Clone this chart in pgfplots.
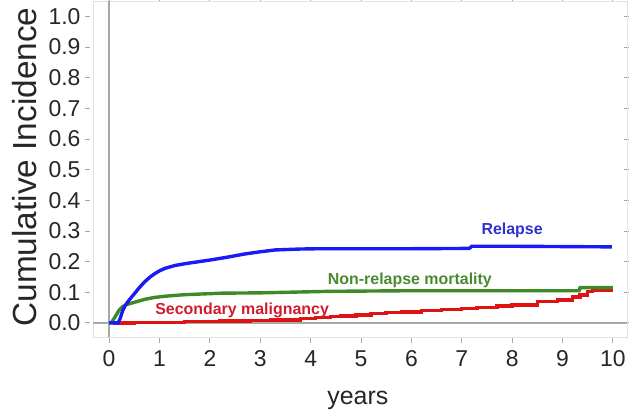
\documentclass[border=0pt]{standalone}
\usepackage{pgfplots}
\pgfplotsset{compat=1.18}
\usepackage{fontspec}
\setmainfont{Liberation Sans}
\definecolor{relblue}{HTML}{1A1AF5}
\definecolor{reltext}{HTML}{3030D0}
\definecolor{nrmgreen}{HTML}{3E8A26}
\definecolor{nrmtext}{HTML}{4A8A2E}
\definecolor{smred}{HTML}{E01212}
\definecolor{smtext}{HTML}{D01C2C}
\definecolor{framegray}{HTML}{E2E2E2}
\definecolor{zerogray}{HTML}{A8A8A8}
\begin{document}
\begin{tikzpicture}
\begin{axis}[
  scale only axis,
  width=534bp, height=336bp,
  xmin=-0.32, xmax=10.28,
  ymin=-0.046, ymax=1.05,
  xtick={0,1,...,10},
  ytick={0,0.1,...,1.0},
  /pgf/number format/assume math mode=true,
  yticklabel style={/pgf/number format/fixed, /pgf/number format/fixed zerofill, /pgf/number format/precision=1},
  tick align=outside,
  major tick length=5bp,
  axis line style={framegray, line width=0.8bp},
  x tick style={zerogray, line width=0.8bp, yshift=-1bp},
  y tick style={zerogray, line width=0.8bp, xshift=-3bp},
  xticklabel style={font=\fontsize{23}{26}\selectfont, color=black!85, yshift=-5bp},
  yticklabel style={font=\fontsize{23}{26}\selectfont, color=black!85, xshift=-4bp},
  xlabel={years},
  ylabel={Cumulative Incidence},
  xlabel style={font=\fontsize{25}{28}\selectfont, color=black!85, at={(axis description cs:0.496,-0.202)}, anchor=base},
  ylabel style={font=\fontsize{33.5}{36}\selectfont, color=black!85, at={(axis description cs:-0.129,0.506)}, anchor=center, rotate=0},
  clip=false,
]
\draw[zerogray, line width=1.6bp] (axis cs:0,-0.046) -- (axis cs:0,1.05);
\draw[zerogray, line width=1.6bp] (axis cs:-0.32,0) -- (axis cs:10.28,0);

\addplot[const plot, smred, line width=3.4bp] coordinates {
(0.08,0) (0.5,0.002) (1.5,0.004) (2.2,0.006) (2.8,0.008) (3.2,0.010)
(3.8,0.014) (4.1,0.018) (4.4,0.020) (4.6,0.023) (4.9,0.026) (5.2,0.030)
(5.5,0.033) (5.8,0.035) (6.2,0.040) (6.6,0.044) (7.0,0.047) (7.3,0.051)
(7.7,0.055) (8.0,0.059) (8.5,0.069) (8.9,0.075) (9.2,0.084) (9.35,0.091)
(9.5,0.102) (9.6,0.107) (10,0.107)
};
\addplot[nrmgreen, line width=3.4bp] coordinates {
(0,0) (0.05,0.002) (0.12,0.02) (0.2,0.042) (0.27,0.053) (0.35,0.060) (0.52,0.068)
(0.71,0.077) (0.9,0.083) (1.11,0.087) (1.5,0.092) (2.24,0.097) (3.0,0.098) (4.4,0.103)
(6.0,0.105) (9.33,0.105) (9.35,0.115) (10,0.115)
};
\addplot[relblue, line width=3.4bp] coordinates {
(0,0) (0.18,0) (0.22,0.015) (0.27,0.04) (0.32,0.057) (0.4,0.075) (0.5,0.095)
(0.6,0.115) (0.7,0.133) (0.8,0.148) (0.9,0.160) (1.0,0.170) (1.11,0.178)
(1.3,0.187) (1.5,0.193) (1.75,0.199) (2.0,0.205) (2.3,0.213) (2.7,0.225)
(3.0,0.232) (3.3,0.238) (3.8,0.241) (4.2,0.242) (6.0,0.242) (7.15,0.243)
(7.2,0.25) (8.0,0.25) (9.98,0.248)
};
\node[anchor=base, text=reltext, font=\fontsize{16}{18}\selectfont\bfseries] at (axis cs:8.0,0.287) {Relapse};
\node[anchor=base, text=nrmtext, font=\fontsize{16}{18}\selectfont\bfseries] at (axis cs:5.97,0.124) {Non-relapse mortality};
\node[anchor=base, text=smtext, font=\fontsize{16}{18}\selectfont\bfseries] at (axis cs:2.64,0.026) {Secondary malignancy};
\end{axis}
\pgfresetboundingbox
\path[use as bounding box] ([xshift=-93bp,yshift=-75bp]current axis.south west) rectangle ([xshift=4bp,yshift=1bp]current axis.north east);
\end{tikzpicture}
\end{document}
